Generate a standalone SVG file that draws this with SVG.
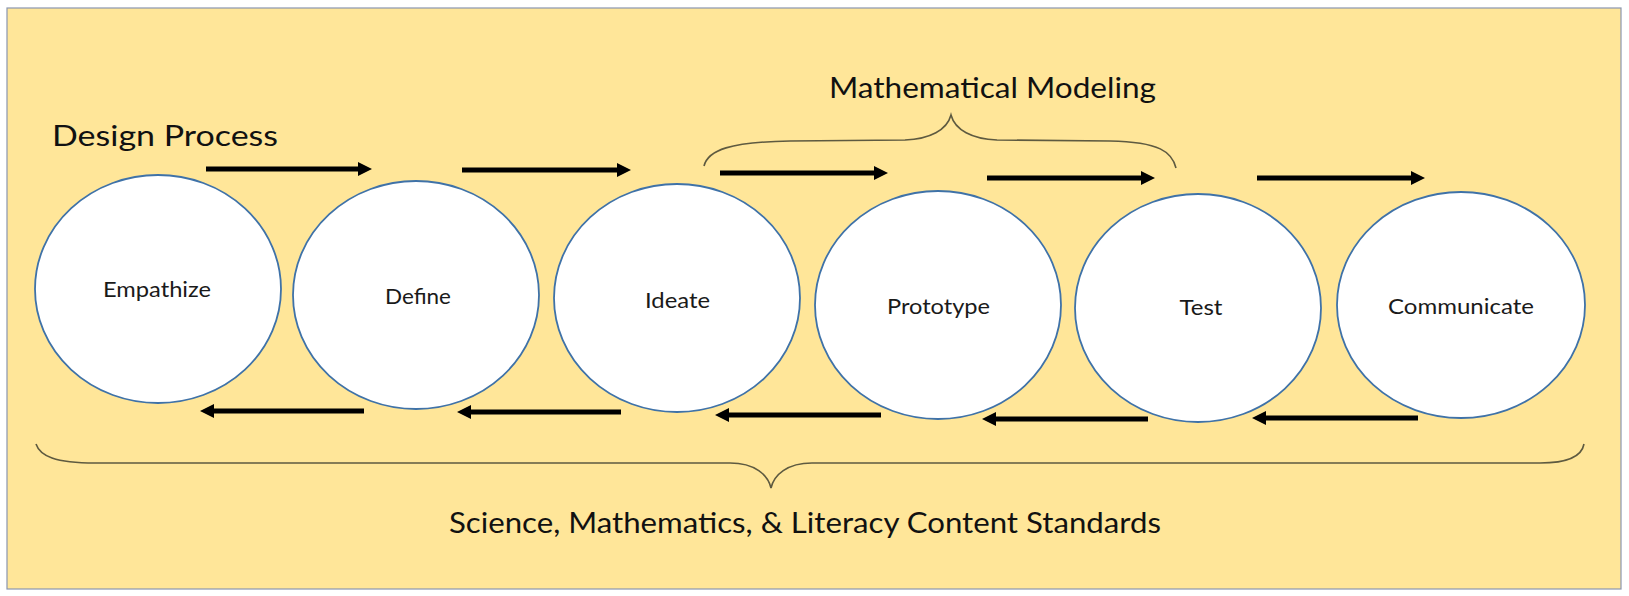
<svg xmlns="http://www.w3.org/2000/svg" width="1629" height="596" viewBox="0 0 1629 596">
<defs>
<style>
.node ellipse{fill:#ffffff;stroke:#3f72a8;stroke-width:1.8}
.lbl{font-family:Lato,"Liberation Sans",sans-serif;font-size:21px;fill:#1a1a1a;text-anchor:middle}
.head{font-family:Lato,"Liberation Sans",sans-serif;font-size:29px;fill:#111111}
.arr{stroke:#000000;stroke-width:5;fill:none}
.brace{stroke:#5e5a40;stroke-width:1.6;fill:none}
</style>
<marker id="ah" viewBox="0 0 14 14" refX="2" refY="7" markerWidth="14" markerHeight="14" markerUnits="userSpaceOnUse" orient="auto">
<path d="M0,0 L14,7 L0,14 z" fill="#000000"/>
</marker>
</defs>
<rect x="0" y="0" width="1629" height="596" fill="#ffffff"/>
<rect id="background" x="7" y="8" width="1614" height="581" fill="#ffe699" stroke="#8a96b0" stroke-width="1.2"/>
<g id="titles">
<text class="head" x="52" y="146" textLength="226" lengthAdjust="spacingAndGlyphs">Design Process</text>
<text class="head" x="829" y="98" textLength="327" lengthAdjust="spacingAndGlyphs">Mathematical Modeling</text>
<text class="head" x="449" y="533" textLength="712" lengthAdjust="spacingAndGlyphs">Science, Mathematics, &amp; Literacy Content Standards</text>
</g>
<g id="braces">
<path class="brace" d="M704,166 C708,150 730,142 790,141 L905,140 C930,139 947,130 951,115 C955,130 972,139 997,140 L1110,141 C1160,142 1172,152 1176,168"/>
<path class="brace" d="M36,444 C40,456 55,463 95,463 L730,463 C755,463 768,475 771,488 C774,475 787,463 812,463 L1540,463 C1570,463 1582,455 1584,444"/>
</g>
<g id="node-empathize" class="node"><ellipse cx="158" cy="289" rx="123" ry="114"/><text class="lbl" x="157" y="297" textLength="108" lengthAdjust="spacingAndGlyphs">Empathize</text></g>
<g id="node-define" class="node"><ellipse cx="416" cy="295" rx="123" ry="114"/><text class="lbl" x="418" y="304" textLength="66" lengthAdjust="spacingAndGlyphs">Define</text></g>
<g id="node-ideate" class="node"><ellipse cx="677" cy="298" rx="123" ry="114"/><text class="lbl" x="677.5" y="308" textLength="65" lengthAdjust="spacingAndGlyphs">Ideate</text></g>
<g id="node-prototype" class="node"><ellipse cx="938" cy="305" rx="123" ry="114"/><text class="lbl" x="938.5" y="314" textLength="103" lengthAdjust="spacingAndGlyphs">Prototype</text></g>
<g id="node-test" class="node"><ellipse cx="1198" cy="308" rx="123" ry="114"/><text class="lbl" x="1201" y="315" textLength="43" lengthAdjust="spacingAndGlyphs">Test</text></g>
<g id="node-communicate" class="node"><ellipse cx="1461" cy="305" rx="124" ry="113"/><text class="lbl" x="1461" y="314" textLength="146" lengthAdjust="spacingAndGlyphs">Communicate</text></g>
<g id="connectors">
<line class="arr" x1="206" y1="169" x2="360" y2="169" marker-end="url(#ah)"/>
<line class="arr" x1="462" y1="170" x2="619" y2="170" marker-end="url(#ah)"/>
<line class="arr" x1="720" y1="173" x2="876" y2="173" marker-end="url(#ah)"/>
<line class="arr" x1="987" y1="178" x2="1143" y2="178" marker-end="url(#ah)"/>
<line class="arr" x1="1257" y1="178" x2="1413" y2="178" marker-end="url(#ah)"/>
<line class="arr" x1="364" y1="411" x2="212" y2="411" marker-end="url(#ah)"/>
<line class="arr" x1="621" y1="412" x2="469" y2="412" marker-end="url(#ah)"/>
<line class="arr" x1="881" y1="415" x2="727" y2="415" marker-end="url(#ah)"/>
<line class="arr" x1="1148" y1="419" x2="994" y2="419" marker-end="url(#ah)"/>
<line class="arr" x1="1418" y1="418" x2="1264" y2="418" marker-end="url(#ah)"/>
</g>
</svg>
